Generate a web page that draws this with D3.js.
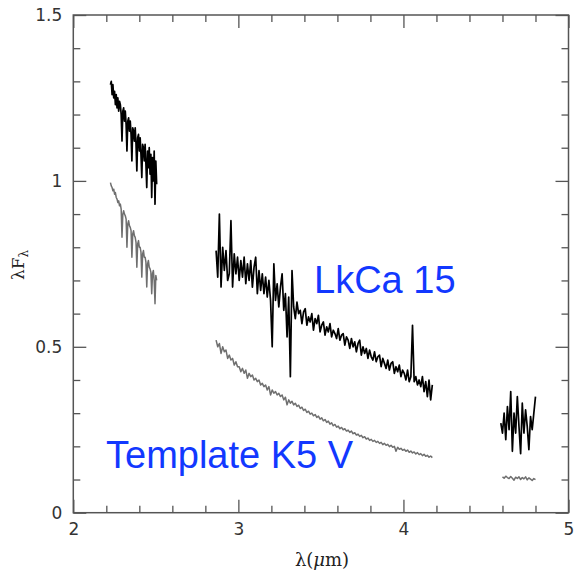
<!DOCTYPE html>
<html><head><meta charset="utf-8">
<script src="https://cdn.jsdelivr.net/npm/d3@7"></script>
<style>
html,body{margin:0;padding:0;background:#fff;}
svg{display:block;}
</style></head>
<body>
<svg id="chart" width="575" height="578"></svg>
<script>
// ---- tick values ----
const xMajorTicks = [2, 3, 4, 5];
const xMinorTicks = [2.2, 2.4, 2.6, 2.8, 3.2, 3.4, 3.6, 3.8, 4.2, 4.4, 4.6, 4.8];
const yMajorTicks = [0, 0.5, 1, 1.5];
const yMinorTicks = [0.1, 0.2, 0.3, 0.4, 0.6, 0.7, 0.8, 0.9, 1.1, 1.2, 1.3, 1.4];
const xTickLabels = ["2", "3", "4", "5"];
const yTickLabels = ["0", "0.5", "1", "1.5"];

// ---- wavelength grids (start, step in micron) ----
const gridK = {start: 2.225, step: 0.005};
const gridL = {start: 2.865, step: 0.01};
const gridM_lk = {start: 4.59, step: 0.01};
const gridM_tp = {start: 4.60, step: 0.01};

// ---- LkCa 15 spectrum (lambda F_lambda) ----
const lkcaK = [1.29,1.30,1.26,1.29,1.25,1.27,1.23,1.26,1.22,1.25,1.21,1.24,1.23,1.20,1.12,1.21,1.22,1.18,1.21,1.17,
  1.09,1.18,1.19,1.15,1.18,1.14,1.06,1.16,1.15,1.12,1.16,1.11,1.03,1.13,1.14,1.09,1.13,1.08,1.01,1.11,
  1.10,1.06,1.11,1.05,0.98,1.09,1.04,1.10,1.02,1.08,0.95,1.07,1.00,1.09,0.93,1.06,0.99];
const lkcaL = [0.79,0.71,0.90,0.68,0.80,0.73,0.79,0.70,0.72,0.88,0.68,0.78,0.72,0.77,0.70,0.76,0.71,0.77,0.69,0.75,
  0.70,0.76,0.68,0.74,0.77,0.66,0.73,0.67,0.72,0.66,0.71,0.65,0.70,0.64,0.50,0.75,0.64,0.69,0.62,0.68,
  0.72,0.61,0.66,0.53,0.65,0.41,0.73,0.62,0.585,0.635,0.60,0.61,0.57,0.605,0.615,0.565,0.59,0.575,0.60,0.55,
  0.585,0.57,0.595,0.545,0.565,0.575,0.535,0.56,0.545,0.57,0.53,0.55,0.54,0.525,0.555,0.52,0.535,0.54,0.505,0.53,
  0.52,0.495,0.525,0.50,0.515,0.485,0.51,0.52,0.475,0.50,0.48,0.495,0.465,0.49,0.47,0.46,0.485,0.455,0.47,0.475,
  0.44,0.465,0.45,0.435,0.46,0.43,0.45,0.455,0.42,0.44,0.425,0.445,0.41,0.43,0.42,0.40,0.43,0.395,0.41,0.565,
  0.395,0.41,0.385,0.40,0.38,0.41,0.365,0.395,0.35,0.40,0.34,0.385];
const lkcaM = [0.27,0.24,0.30,0.22,0.32,0.25,0.365,0.185,0.30,0.24,0.35,0.26,0.178,0.33,0.24,0.31,0.26,0.19,0.29,0.25,0.30,0.35];

// ---- Template K5 V spectrum ----
const templK = [0.995,0.985,0.98,0.97,0.975,0.96,0.965,0.95,0.945,0.935,0.94,0.925,0.93,0.915,0.83,0.90,0.91,0.90,0.895,0.885,
  0.80,0.87,0.88,0.865,0.86,0.85,0.77,0.84,0.85,0.835,0.83,0.815,0.74,0.81,0.82,0.80,0.80,0.785,0.71,0.78,
  0.79,0.77,0.77,0.755,0.68,0.75,0.76,0.74,0.735,0.725,0.66,0.72,0.73,0.70,0.63,0.715,0.70];
const templL = [0.52,0.50,0.51,0.48,0.50,0.485,0.49,0.465,0.475,0.46,0.465,0.445,0.455,0.44,0.44,0.425,0.435,0.42,0.43,0.405,
  0.42,0.41,0.415,0.40,0.405,0.395,0.40,0.385,0.39,0.38,0.385,0.37,0.38,0.355,0.37,0.36,0.365,0.355,0.36,0.35,
  0.355,0.34,0.348,0.325,0.34,0.33,0.336,0.325,0.33,0.32,0.324,0.314,0.318,0.308,0.312,0.302,0.306,0.297,0.300,0.292,
  0.296,0.287,0.291,0.282,0.286,0.277,0.281,0.272,0.276,0.267,0.271,0.262,0.266,0.258,0.261,0.253,0.257,0.25,0.253,0.246,
  0.249,0.242,0.246,0.238,0.241,0.234,0.237,0.23,0.233,0.226,0.229,0.222,0.225,0.218,0.221,0.215,0.218,0.212,0.215,0.209,
  0.212,0.205,0.209,0.203,0.206,0.199,0.203,0.197,0.200,0.185,0.197,0.191,0.194,0.188,0.191,0.185,0.189,0.182,0.186,0.18,
  0.183,0.177,0.181,0.175,0.178,0.172,0.176,0.17,0.173,0.167,0.171,0.166];
const templM = [0.108,0.104,0.110,0.106,0.103,0.109,0.104,0.098,0.107,0.103,0.108,0.100,0.106,0.102,0.108,0.099,0.105,0.101,0.097,0.103,0.100];

// ---- annotations ----
const labelLkCa = "LkCa 15";
const labelTemplate = "Template K5 V";

const svg = d3.select("#chart");
const L = 73.3, R = 568.5, T = 15, B = 512.7;
const x = d3.scaleLinear().domain([2, 5]).range([L, R]);
const y = d3.scaleLinear().domain([0, 1.5]).range([B, T]);

function toPts(grid, vals){ return vals.map((v,i)=>[grid.start + grid.step*i, v]); }
const line = d3.line().x(d=>x(d[0])).y(d=>y(d[1]));

const tickColor = "#555";
const fontNum = "'DejaVu Sans', sans-serif";

// axes: major ticks
const gB = svg.append("g").attr("transform",`translate(0,${B})`)
  .call(d3.axisBottom(x).tickValues(xMajorTicks).tickSize(-13).tickPadding(10)
    .tickFormat((d,i)=>xTickLabels[i]));
gB.append("g").call(d3.axisBottom(x).tickValues(xMinorTicks).tickSize(-7).tickFormat(""));
const gT = svg.append("g").attr("transform",`translate(0,${T})`)
  .call(d3.axisTop(x).tickValues(xMajorTicks).tickSize(-13).tickFormat(""));
gT.append("g").call(d3.axisTop(x).tickValues(xMinorTicks).tickSize(-7).tickFormat(""));
const gL = svg.append("g").attr("transform",`translate(${L},0)`)
  .call(d3.axisLeft(y).tickValues(yMajorTicks).tickSize(-13).tickPadding(11)
    .tickFormat((d,i)=>yTickLabels[i]));
gL.append("g").call(d3.axisLeft(y).tickValues(yMinorTicks).tickSize(-7).tickFormat(""));
const gR = svg.append("g").attr("transform",`translate(${R},0)`)
  .call(d3.axisRight(y).tickValues(yMajorTicks).tickSize(-13).tickFormat(""));
gR.append("g").call(d3.axisRight(y).tickValues(yMinorTicks).tickSize(-7).tickFormat(""));

svg.selectAll(".domain").remove();
svg.selectAll(".tick line").attr("stroke", tickColor).attr("stroke-width", 1.3);
svg.selectAll(".tick text").attr("font-family", fontNum).attr("font-size", 17).attr("fill", "#333");

// frame
svg.append("rect").attr("x", L).attr("y", T).attr("width", R-L).attr("height", B-T)
  .attr("fill", "none").attr("stroke", tickColor).attr("stroke-width", 1.5);

// spectra
const tpColor = "#6f6f6f";
[[gridK, templK], [gridL, templL], [gridM_tp, templM]].forEach(([g,v])=>{
  svg.append("path").attr("d", line(toPts(g,v))).attr("fill","none")
    .attr("stroke", tpColor).attr("stroke-width", 1.5).attr("stroke-linejoin","round");
});
[[gridK, lkcaK], [gridL, lkcaL], [gridM_lk, lkcaM]].forEach(([g,v])=>{
  svg.append("path").attr("d", line(toPts(g,v))).attr("fill","none")
    .attr("stroke", "#000").attr("stroke-width", 1.7).attr("stroke-linejoin","round");
});

// annotations
const blue = "#1238ff";
svg.append("text").attr("x", 314).attr("y", 293).attr("font-family","'Liberation Sans', Arial, sans-serif")
  .attr("font-size", 38).attr("fill", blue).text(labelLkCa);
svg.append("text").attr("x", 106).attr("y", 468).attr("font-family","'Liberation Sans', Arial, sans-serif")
  .attr("font-size", 38).attr("fill", blue).text(labelTemplate);

// axis titles
const xt = svg.append("text").attr("x", 322).attr("y", 566).attr("text-anchor","middle")
  .attr("font-family","'DejaVu Serif', 'Liberation Serif', serif").attr("font-size", 18).attr("fill","#222");
xt.append("tspan").text("λ(");
xt.append("tspan").attr("font-style","italic").text("μ");
xt.append("tspan").text("m)");

const yt = svg.append("text").attr("transform","translate(24,265) rotate(-90)").attr("text-anchor","middle")
  .attr("font-family","'DejaVu Serif', 'Liberation Serif', serif").attr("font-size", 17).attr("fill","#222");
yt.append("tspan").text("λF");
yt.append("tspan").attr("font-size", 12).attr("dy", 4).text("λ");
</script>
</body></html>
